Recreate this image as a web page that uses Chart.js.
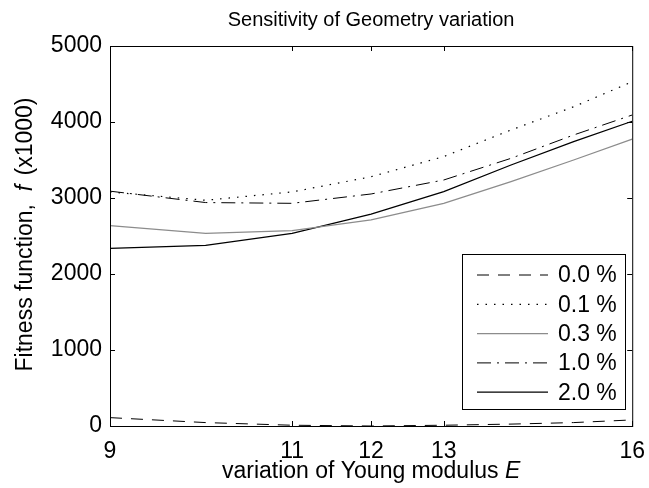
<!DOCTYPE html>
<html>
<head>
<meta charset="utf-8">
<script src="https://cdn.jsdelivr.net/npm/chart.js@4/dist/chart.umd.min.js"></script>
<style>
  html, body { margin: 0; padding: 0; background: #fff; }
  #wrap { width: 649px; height: 488px; }
</style>
</head>
<body>
<div id="wrap"><canvas id="chart" width="649" height="488"></canvas></div>
<script>
// Young modulus values (x) and fitness per geometry variation
const youngE = [9, 10, 11, 12, 13, 14, 15, 16];
const xTickValues = [9, 11, 12, 13, 16];
const fit00 = [110, 45, 10, 0, 10, 25, 45, 80];
const fit01 = [3080, 2970, 3080, 3280, 3545, 3895, 4200, 4530];
const fit03 = [2636, 2535, 2570, 2711, 2930, 3215, 3500, 3776];
const fit10 = [3090, 2940, 2930, 3053, 3237, 3522, 3829, 4092];
const fit20 = [2338, 2377, 2535, 2789, 3083, 3434, 3741, 4010];
const seriesLabels = ['0.0 %', '0.1 %', '0.3 %', '1.0 %', '2.0 %'];

const FONT = 'Liberation Sans, Arial, sans-serif';
const FS = 23;

function pts(vals) {
  return youngE.map((x, i) => ({ x: x, y: vals[i] }));
}

// box, inward ticks, titles and legend (matlab style)
const matlabLook = {
  id: 'matlabLook',
  afterDraw(chart) {
    const ctx = chart.ctx;
    const a = chart.chartArea;
    const xs = chart.scales.x, ys = chart.scales.y;
    ctx.save();
    ctx.strokeStyle = '#000';
    ctx.lineWidth = 1;
    ctx.setLineDash([]);
    ctx.strokeRect(a.left + 0.5, a.top + 0.5, a.right - a.left, a.bottom - a.top);
    const tl = 5;
    ctx.beginPath();
    xTickValues.forEach(v => {
      const px = Math.round(xs.getPixelForValue(v)) + 0.5;
      ctx.moveTo(px, a.bottom); ctx.lineTo(px, a.bottom - tl);
      ctx.moveTo(px, a.top); ctx.lineTo(px, a.top + tl);
    });
    ys.ticks.forEach(t => {
      const py = Math.round(ys.getPixelForValue(t.value)) + 0.5;
      ctx.moveTo(a.left, py); ctx.lineTo(a.left + tl, py);
      ctx.moveTo(a.right, py); ctx.lineTo(a.right - tl, py);
    });
    ctx.stroke();

    // title
    ctx.fillStyle = '#000';
    ctx.font = '20px ' + FONT;
    ctx.textAlign = 'center';
    ctx.textBaseline = 'middle';
    const cx = (a.left + a.right) / 2;
    ctx.fillText('Sensitivity of Geometry variation', cx, 20);

    // x title with italic E
    const xt1 = 'variation of Young modulus ';
    ctx.font = FS + 'px ' + FONT;
    const w1 = ctx.measureText(xt1).width;
    ctx.font = 'italic ' + FS + 'px ' + FONT;
    const w2 = ctx.measureText('E').width;
    let sx = cx - (w1 + w2) / 2;
    ctx.textAlign = 'left';
    ctx.font = FS + 'px ' + FONT;
    ctx.fillText(xt1, sx, 472);
    ctx.font = 'italic ' + FS + 'px ' + FONT;
    ctx.fillText('E', sx + w1, 472);

    // y title with italic f
    ctx.save();
    ctx.translate(26, (a.top + a.bottom) / 2);
    ctx.rotate(-Math.PI / 2);
    const p1 = 'Fitness function,  ', p2 = 'f', p3 = ' (x1000)';
    ctx.font = FS + 'px ' + FONT;
    const q1 = ctx.measureText(p1).width, q3 = ctx.measureText(p3).width;
    ctx.font = 'italic ' + FS + 'px ' + FONT;
    const q2 = ctx.measureText(p2).width;
    let yx = -(q1 + q2 + q3) / 2;
    ctx.font = FS + 'px ' + FONT;
    ctx.fillText(p1, yx, 0);
    ctx.font = 'italic ' + FS + 'px ' + FONT;
    ctx.fillText(p2, yx + q1, 0);
    ctx.font = FS + 'px ' + FONT;
    ctx.fillText(p3, yx + q1 + q2 + 3, 0);
    ctx.restore();

    // legend box
    const bx = 462, by = 254, bw = 163, bh = 155;
    ctx.fillStyle = '#fff';
    ctx.fillRect(bx, by, bw, bh);
    ctx.strokeStyle = '#000';
    ctx.lineWidth = 1;
    ctx.strokeRect(bx + 0.5, by + 0.5, bw, bh);
    chart.data.datasets.forEach((ds, i) => {
      const ly = by + 21 + i * 29.3;
      ctx.beginPath();
      ctx.strokeStyle = ds.borderColor;
      ctx.lineWidth = ds.borderWidth;
      ctx.setLineDash(ds.borderDash || []);
      ctx.moveTo(bx + 15, ly);
      ctx.lineTo(bx + 86, ly);
      ctx.stroke();
      ctx.setLineDash([]);
      ctx.fillStyle = '#000';
      ctx.font = FS + 'px ' + FONT;
      ctx.textAlign = 'left';
      ctx.fillText(ds.label, bx + 96, ly + 1);
    });
    ctx.restore();
  }
};

new Chart(document.getElementById('chart'), {
  type: 'line',
  data: {
    datasets: [
      { label: seriesLabels[0], data: pts(fit00), borderColor: '#000', borderWidth: 1, borderDash: [12, 9] },
      { label: seriesLabels[1], data: pts(fit01), borderColor: '#000', borderWidth: 1.2, borderDash: [1.5, 7] },
      { label: seriesLabels[2], data: pts(fit03), borderColor: '#8c8c8c', borderWidth: 1.3, borderDash: [] },
      { label: seriesLabels[3], data: pts(fit10), borderColor: '#000', borderWidth: 1, borderDash: [14, 6, 2, 6] },
      { label: seriesLabels[4], data: pts(fit20), borderColor: '#000', borderWidth: 1.3, borderDash: [] }
    ]
  },
  options: {
    responsive: false,
    animation: false,
    layout: { padding: { top: 46, right: 13, left: 0, bottom: 0 } },
    elements: { point: { radius: 0 }, line: { tension: 0, fill: false } },
    plugins: { legend: { display: false }, tooltip: { enabled: false } },
    scales: {
      x: {
        type: 'logarithmic',
        min: 9,
        max: 16,
        afterBuildTicks: s => { s.ticks = xTickValues.map(v => ({ value: v })); },
        afterFit: s => { s.height = 62; },
        grid: { display: true, drawOnChartArea: false, drawTicks: true, tickLength: 8, color: 'rgba(0,0,0,0)' },
        border: { display: false },
        ticks: { color: '#000', font: { family: FONT, size: FS }, padding: 4, maxRotation: 0, autoSkip: false, callback: v => String(v) }
      },
      y: {
        min: 0,
        max: 5000,
        afterFit: s => { s.width = 110; },
        grid: { display: false, drawTicks: false },
        border: { display: false },
        ticks: { color: '#000', font: { family: FONT, size: FS }, padding: 8, stepSize: 1000, callback: v => String(v) }
      }
    }
  },
  plugins: [matlabLook]
});
</script>
</body>
</html>
